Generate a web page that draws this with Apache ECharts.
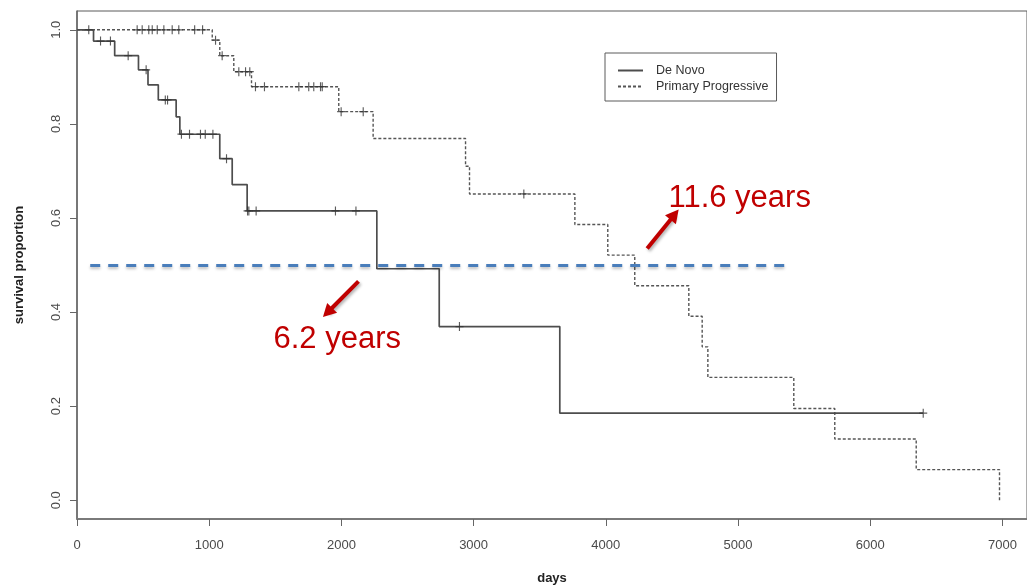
<!DOCTYPE html>
<html>
<head>
<meta charset="utf-8">
<script src="https://cdn.jsdelivr.net/npm/echarts@6/dist/echarts.min.js"></script>
<style>
  html, body { margin: 0; padding: 0; background: #fff; }
  #chart { width: 1027px; height: 586px; }
</style>
</head>
<body>
<div id="chart"></div>
<script>
// Kaplan–Meier survival estimates (days since onset)
const seriesNames = ['De Novo', 'Primary Progressive'];

// De Novo: event times and survival after each event
const deNovoDays = [125, 285, 465, 537, 615, 750, 778, 1080, 1174, 1287, 2268, 2740, 3652];
const deNovoSurv = [0.976, 0.945, 0.915, 0.883, 0.851, 0.815, 0.778, 0.726, 0.671, 0.615, 0.492, 0.369, 0.185];
const deNovoLastFollowUp = 6401;
const deNovoCensored = [178, 253, 387, 523, 668, 685, 790, 851, 934, 970, 1028, 1131, 1290, 1300, 1355, 1955, 2110, 2893, 6401];

// Primary Progressive: event times and survival after each event
const ppDays = [1023, 1080, 1186, 1320, 1980, 2240, 2939, 2969, 3766, 4015, 4219, 4628, 4729, 4772, 5422, 5732, 6348, 6978];
const ppSurv = [0.978, 0.945, 0.911, 0.879, 0.826, 0.769, 0.710, 0.651, 0.586, 0.521, 0.456, 0.391, 0.326, 0.261, 0.195, 0.130, 0.065, 0];
const ppCensored = [89, 455, 493, 543, 569, 607, 657, 720, 770, 890, 950, 1048, 1098, 1224, 1275, 1307, 1350, 1418, 1678, 1753, 1791, 1842, 1855, 1998, 2165, 3380];

// Axis ticks
const xTicks = [0, 1000, 2000, 3000, 4000, 5000, 6000, 7000];
const yTicks = [0, 0.2, 0.4, 0.6, 0.8, 1.0];

// Median survival reference and callouts
const medianLevel = 0.5;
const medianSpan = [100, 5400];
const medianLabels = [
  { text: '6.2 years', at: [1486, 0.342], arrowFrom: [2129, 0.465], arrowTo: [1895, 0.399] },
  { text: '11.6 years', at: [4474, 0.642], arrowFrom: [4313, 0.535], arrowTo: [4520, 0.607] }
];

function curve(days, surv, lastFollowUp) {
  const pts = [[0, 1]];
  days.forEach((d, i) => pts.push([d, surv[i]]));
  if (lastFollowUp != null && lastFollowUp > days[days.length - 1]) {
    pts.push([lastFollowUp, surv[surv.length - 1]]);
  }
  return pts;
}
function levelAt(days, surv, t) {
  let s = 1;
  for (let i = 0; i < days.length; i++) {
    if (days[i] <= t) s = surv[i];
  }
  return s;
}
const censorSymbol = 'path://M5,0L5,10M0,5L10,5';

const chart = echarts.init(document.getElementById('chart'), null, { renderer: 'canvas' });
const tickFont = { fontFamily: 'Liberation Sans, Arial, sans-serif', fontSize: 13, color: '#4a4a4a' };

chart.setOption({
  animation: false,
  backgroundColor: '#fff',
  grid: {
    left: 77, top: 11, right: 0, bottom: 67, outerBoundsMode: 'none',
    show: true, borderColor: '#5a5a5a', borderWidth: 1
  },
  legend: {
    data: seriesNames,
    orient: 'vertical',
    left: 605, top: 53,
    itemWidth: 25, itemHeight: 14, itemGap: 3,
    padding: [11, 8, 8, 12],
    borderColor: '#5a5a5a', borderWidth: 1,
    backgroundColor: '#fff',
    itemStyle: { opacity: 0 },
    textStyle: { fontFamily: 'Liberation Sans, Arial, sans-serif', fontSize: 12.5, color: '#333', padding: [0, 0, 0, 8] }
  },
  xAxis: {
    type: 'value', min: 0, max: 7186,
    name: 'days', nameLocation: 'middle', nameGap: 53,
    nameTextStyle: { fontFamily: 'Liberation Sans, Arial, sans-serif', fontSize: 13, fontWeight: 'bold', color: '#222' },
    axisLine: { onZero: false, lineStyle: { color: '#7a7a7a', width: 2 } },
    axisTick: { customValues: xTicks, length: 7, lineStyle: { color: '#666' } },
    axisLabel: Object.assign({ customValues: xTicks, margin: 20, formatter: v => String(v) }, tickFont),
    splitLine: { show: false }
  },
  yAxis: {
    type: 'value', min: -0.04, max: 1.04,
    name: 'survival proportion', nameLocation: 'middle', nameGap: 51, nameRotate: 90,
    nameTextStyle: { fontFamily: 'Liberation Sans, Arial, sans-serif', fontSize: 13, fontWeight: 'bold', color: '#222' },
    axisLine: { show: true, onZero: false, lineStyle: { color: '#666', width: 1.5 } },
    axisTick: { show: true, customValues: yTicks, length: 7, lineStyle: { color: '#666' } },
    axisLabel: Object.assign({ customValues: yTicks, rotate: 90, margin: 14, formatter: v => v.toFixed(1) }, tickFont),
    splitLine: { show: false }
  },
  series: [
    {
      name: 'De Novo', type: 'line', step: 'end', symbol: 'none',
      data: curve(deNovoDays, deNovoSurv, deNovoLastFollowUp),
      lineStyle: { color: '#4d4d4d', width: 1.7 },
      itemStyle: { color: '#4d4d4d' },
      z: 3
    },
    {
      name: 'Primary Progressive', type: 'line', step: 'end', symbol: 'none',
      data: curve(ppDays, ppSurv, null),
      lineStyle: { color: '#555', width: 1.4, type: [3, 2] },
      itemStyle: { color: '#555' },
      z: 2,
      markLine: {
        silent: true,
        symbol: ['none', 'none'],
        label: { show: false },
        lineStyle: {
          color: '#4a7ebb', width: 3, type: [10, 8],
          shadowColor: 'rgba(0,0,0,0.25)', shadowBlur: 3, shadowOffsetY: 2
        },
        data: [[{ coord: [medianSpan[0], medianLevel] }, { coord: [medianSpan[1], medianLevel] }]]
      }
    },
    {
      name: 'De Novo censored', type: 'scatter', symbol: censorSymbol, symbolSize: [8, 9],
      data: deNovoCensored.map(t => [t, levelAt(deNovoDays, deNovoSurv, t)]),
      itemStyle: { color: 'rgba(0,0,0,0)', borderColor: '#333', borderWidth: 1.2 },
      z: 4
    },
    {
      name: 'Primary Progressive censored', type: 'scatter', symbol: censorSymbol, symbolSize: [8, 9],
      data: ppCensored.map(t => [t, levelAt(ppDays, ppSurv, t)]),
      itemStyle: { color: 'rgba(0,0,0,0)', borderColor: '#333', borderWidth: 1.2 },
      z: 4
    },
    {
      name: 'callout arrows', type: 'line', data: [], symbol: 'none',
      markLine: {
        silent: true,
        symbol: ['none', 'triangle'],
        symbolSize: [14, 13],
        label: { show: false },
        lineStyle: {
          color: '#c00000', width: 4, type: 'solid',
          shadowColor: 'rgba(0,0,0,0.3)', shadowBlur: 3, shadowOffsetX: 1.5, shadowOffsetY: 2
        },
        data: medianLabels.map(m => [{ coord: m.arrowFrom }, { coord: m.arrowTo }])
      }
    }
  ]
});

// Callout texts placed in data coordinates
chart.setOption({
  graphic: medianLabels.map(m => {
    const p = chart.convertToPixel({ gridIndex: 0 }, m.at);
    return {
      type: 'text', x: p[0], y: p[1], z: 10,
      style: {
        text: m.text, fill: '#c00000',
        font: '31px "Liberation Sans", Arial, sans-serif',
        textAlign: 'left', textVerticalAlign: 'middle'
      }
    };
  })
});
</script>
</body>
</html>
